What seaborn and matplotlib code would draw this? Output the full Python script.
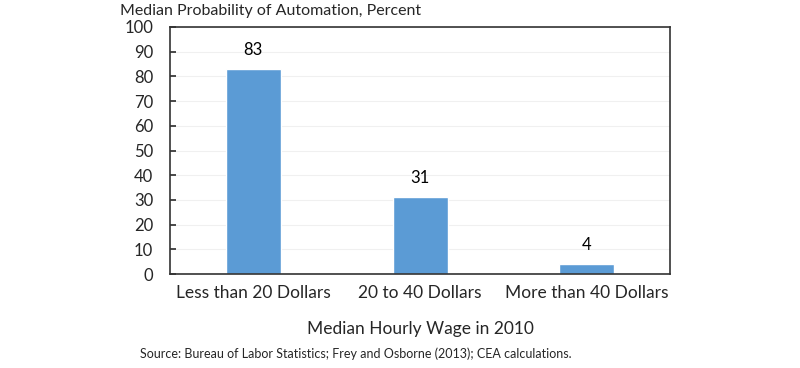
import matplotlib
matplotlib.use("Agg")
import matplotlib.pyplot as plt
import seaborn as sns
import pandas as pd

# data
wage_groups = ["Less than 20 Dollars", "20 to 40 Dollars", "More than 40 Dollars"]
automation_prob = [83, 31, 4]
y_ticks = [0, 10, 20, 30, 40, 50, 60, 70, 80, 90, 100]

df = pd.DataFrame({"wage": wage_groups, "prob": automation_prob})

sns.set_theme(style="white")
plt.rcParams["font.family"] = ["Lato", "DejaVu Sans"]

fig = plt.figure(figsize=(8, 3.68), dpi=100)
ax = fig.add_axes([0.2125, 0.255, 0.625, 0.672])

sns.barplot(data=df, x="wage", y="prob", color="#5B9BD5", saturation=1,
            width=0.33, ax=ax)

for i, v in enumerate(automation_prob):
    ax.text(i, v + 4.5, str(v), ha="center", va="bottom", fontsize=12, color="black")

ax.set_ylim(0, 100)
ax.set_xlim(-0.5, 2.5)
ax.set_yticks(y_ticks)
ax.set_yticklabels([str(t) for t in y_ticks], fontsize=12)
ax.set_xticks([0, 1, 2])
ax.set_xticklabels(wage_groups, fontsize=12.5)
ax.set_xticks([0.5, 1.5], minor=True)
ax.tick_params(axis="x", which="major", length=0, pad=8)
ax.tick_params(axis="x", which="minor", direction="in", length=4, color="#333333")
ax.tick_params(axis="y", direction="in", length=4, left=True, color="#333333", pad=12)
ax.yaxis.grid(True, color="#f0f0f0", linewidth=0.8)
ax.set_axisbelow(True)

for s in ax.spines.values():
    s.set_visible(True)
    s.set_color("#333333")
    s.set_linewidth(1.2)

ax.set_ylabel("")
ax.set_xlabel("Median Hourly Wage in 2010", fontsize=12.5, labelpad=14)

fig.text(0.15, 0.97, "Median Probability of Automation, Percent", fontsize=11.5,
         ha="left", va="center")
fig.text(0.175, 0.04, "Source: Bureau of Labor Statistics; Frey and Osborne (2013); CEA calculations.",
         fontsize=9, ha="left", va="center")

fig.savefig("out.png", dpi=100)
